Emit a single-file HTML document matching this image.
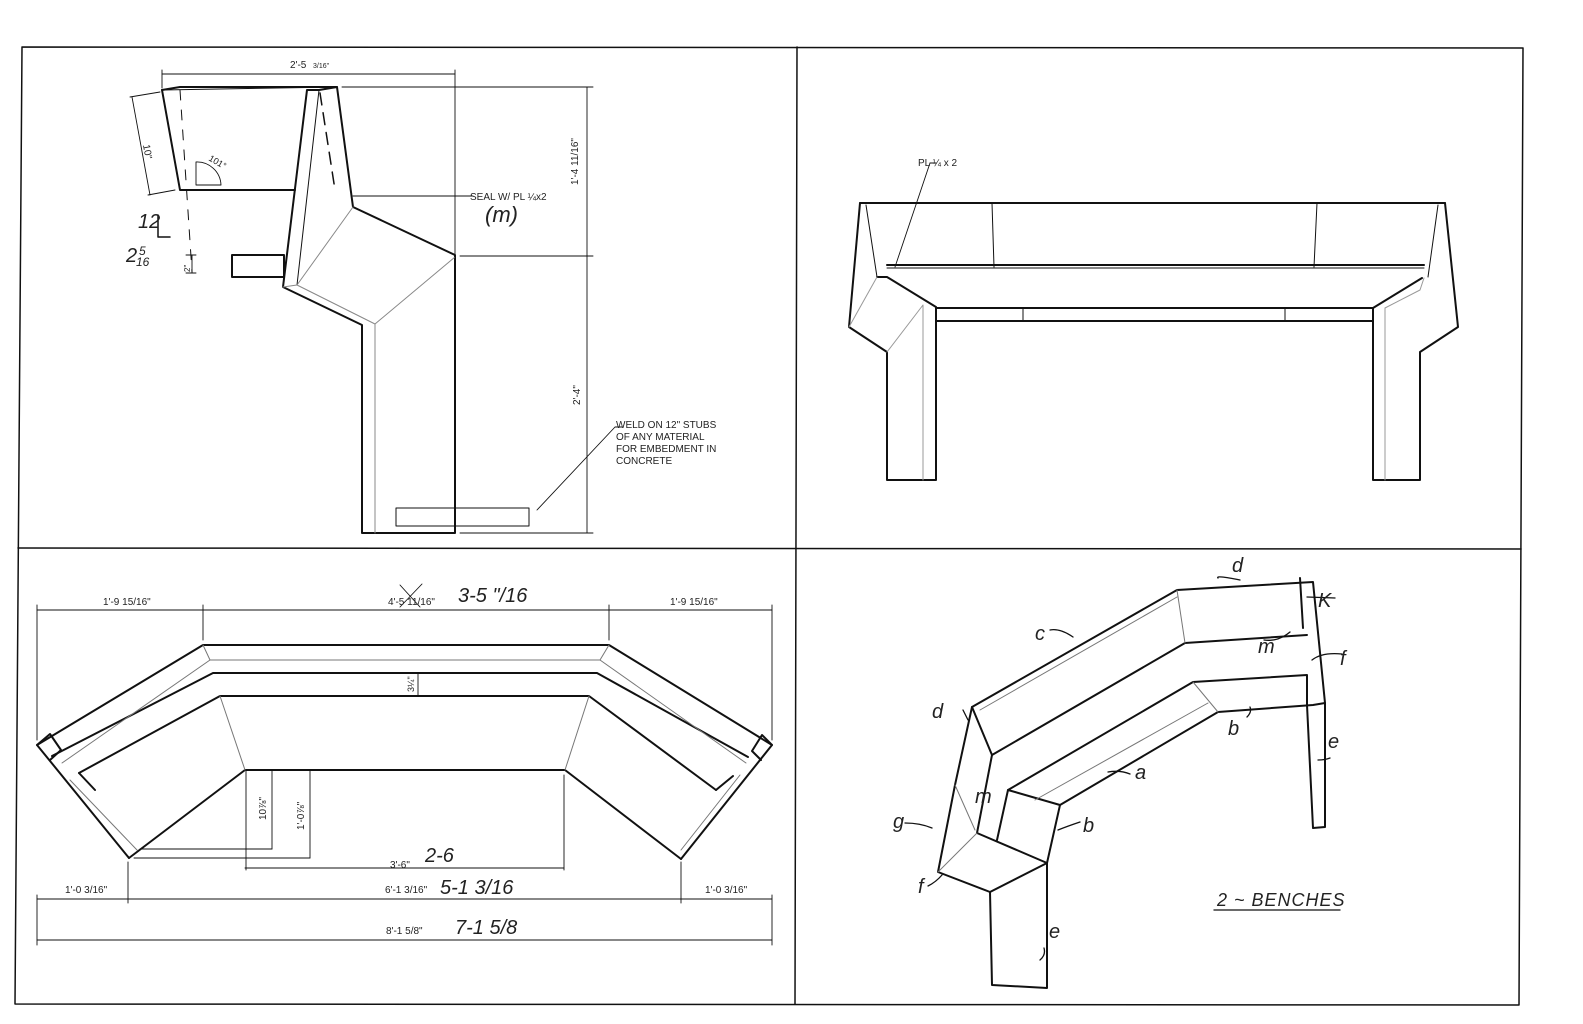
<!DOCTYPE html>
<html><head><meta charset="utf-8"><style>
html,body{margin:0;padding:0;background:#fff;}
svg{display:block;}
text{font-family:"Liberation Sans",sans-serif;fill:#222;}
.h{font-family:"Liberation Sans",sans-serif;font-style:italic;}
</style></head><body>
<svg width="1583" height="1024" viewBox="0 0 1583 1024" xmlns="http://www.w3.org/2000/svg">
<g fill="none" stroke="#111" stroke-linejoin="round" stroke-linecap="round">
<path d="M22 47 L1523 48 L1519 1005 L15 1004 Z" stroke-width="1.5"/>
<line x1="797" y1="47" x2="795" y2="1004" stroke-width="1.5"/>
<line x1="18" y1="548" x2="1521" y2="549" stroke-width="1.5"/>

<g stroke-width="2">
<path d="M162 90 L180 87 L337 87"/>
<path d="M162 90 L180 190 L295 190"/>
<path d="M307 90 L319 90 L337 87 L353 207 L455 255 L455 533 L362 533 L362 325 L283 287 L307 90"/>
<rect x="232" y="255" width="52" height="22"/>
</g>
<g stroke-width="1">
<line x1="319" y1="90" x2="297" y2="285"/>
<line x1="162" y1="90" x2="337" y2="87" />
</g>
<g stroke="#888" stroke-width="1">
<path d="M353 207 L297 285 L375 324 L455 257"/>
<line x1="297" y1="285" x2="283" y2="287"/>
<line x1="375" y1="324" x2="375" y2="533"/>
</g>
<line x1="180" y1="90" x2="192" y2="272" stroke-width="1" stroke-dasharray="10,10"/>
<line x1="320" y1="93" x2="335" y2="190" stroke-width="1.5" stroke-dasharray="12,8"/>
<rect x="396" y="508" width="133" height="18" stroke-width="1"/>
<g stroke-width="0.9">
<line x1="162" y1="74" x2="455" y2="74"/>
<line x1="162" y1="70" x2="162" y2="88"/>
<line x1="455" y1="70" x2="455" y2="533"/>
<line x1="342" y1="87" x2="593" y2="87"/>
<line x1="460" y1="256" x2="593" y2="256"/>
<line x1="460" y1="533" x2="593" y2="533"/>
<line x1="587" y1="87" x2="587" y2="533"/>
<line x1="132" y1="97" x2="150" y2="195"/>
<line x1="130" y1="97" x2="160" y2="92"/>
<line x1="148" y1="195" x2="175" y2="190"/>
<line x1="353" y1="196" x2="473" y2="196"/>
<path d="M622 427 L615 427 L537 510"/>
<line x1="930" y1="163" x2="895" y2="267"/>
<line x1="930" y1="163" x2="936" y2="163"/>
<path d="M196 185 L196 162 A24 24 0 0 1 221 185 Z"/>
<path d="M186 255 L196 255 M186 273 L196 273 M192 255 L192 273"/>
<path d="M158 215 L158 237 L170 237" stroke-width="1.5"/>
</g>

<g stroke-width="2">
<path d="M860 203 L1445 203"/>
<path d="M860 203 L849 327 L887 352 L887 480 L936 480 L936 308"/>
<path d="M1445 203 L1458 327 L1420 352 L1420 480 L1373 480 L1373 308"/>
<path d="M936 308 L1373 308"/>
<path d="M936 321 L1373 321"/>
<path d="M887 265 L1424 265"/>
<path d="M877 277 L887 277 L936 307"/>
<path d="M1422 278 L1373 308"/>
</g>
<g stroke-width="1">
<line x1="887" y1="268" x2="1424" y2="268"/>
<line x1="866" y1="205" x2="877" y2="277"/>
<line x1="1438" y1="205" x2="1428" y2="277"/>
<line x1="992" y1="203" x2="994" y2="267"/>
<line x1="1317" y1="203" x2="1314" y2="267"/>
<line x1="1023" y1="308" x2="1023" y2="321"/>
<line x1="1285" y1="308" x2="1285" y2="321"/>
</g>
<g stroke="#999" stroke-width="1">
<path d="M877 277 L849 327 M887 352 L923 305 L923 480 M1385 308 L1385 480 M1424 278 L1420 290 L1385 308"/>
</g>

<g stroke-width="2">
<path d="M37 745 L203 645 L609 645 L772 745"/>
<path d="M37 745 L50 734 L61 750 L50 760 M37 745 L129 858"/>
<path d="M772 745 L762 735 L752 751 L761 760 M772 745 L681 859"/>
<path d="M129 858 L245 770 L565 770 L681 859"/>
<path d="M52 756 L213 673 L597 673 L748 757"/>
<path d="M79 773 L220 696 L589 696 L716 790"/>
<path d="M79 773 L95 790 M716 790 L733 776"/>
</g>
<g stroke="#777" stroke-width="1">
<line x1="210" y1="660" x2="600" y2="660"/>
<line x1="203" y1="645" x2="210" y2="660"/>
<line x1="609" y1="645" x2="600" y2="660"/>
<line x1="62" y1="763" x2="210" y2="660"/>
<line x1="746" y1="763" x2="600" y2="660"/>
<line x1="220" y1="696" x2="245" y2="770"/>
<line x1="589" y1="696" x2="565" y2="770"/>
<line x1="70" y1="780" x2="137" y2="850"/>
<line x1="740" y1="775" x2="681" y2="850"/>
</g>
<g stroke-width="0.9">
<line x1="37" y1="610" x2="772" y2="610"/>
<line x1="37" y1="605" x2="37" y2="740"/>
<line x1="203" y1="605" x2="203" y2="640"/>
<line x1="609" y1="605" x2="609" y2="640"/>
<line x1="772" y1="605" x2="772" y2="740"/>
<line x1="418" y1="673" x2="418" y2="696"/>
<line x1="246" y1="770" x2="246" y2="870"/>
<line x1="564" y1="775" x2="564" y2="870"/>
<line x1="245" y1="868" x2="564" y2="868"/>
<line x1="140" y1="849" x2="272" y2="849"/>
<line x1="272" y1="770" x2="272" y2="849"/>
<line x1="134" y1="858" x2="310" y2="858"/>
<line x1="310" y1="770" x2="310" y2="858"/>
<line x1="128" y1="862" x2="128" y2="903"/>
<line x1="681" y1="862" x2="681" y2="903"/>
<line x1="37" y1="899" x2="772" y2="899"/>
<line x1="37" y1="895" x2="37" y2="945"/>
<line x1="772" y1="895" x2="772" y2="945"/>
<line x1="37" y1="940" x2="772" y2="940"/>
<line x1="400" y1="585" x2="420" y2="607"/>
<line x1="400" y1="607" x2="422" y2="584"/>
</g>

<g stroke-width="2">
<path d="M972 707 L1177 590 L1313 582 L1325 703 L1325 827 L1313 828 L1307 705"/>
<path d="M992 755 L1185 643 L1307 635"/>
<path d="M1008 790 L1193 682 L1307 675 L1307 705"/>
<path d="M1060 805 L1218 712 L1313 705 L1325 703"/>
<path d="M972 707 L955 785 L938 872 L990 892 L1047 863 L1060 805 L1008 790 L997 840"/>
<path d="M972 707 L992 755 L977 833 L1047 863"/>
<path d="M990 892 L992 985 L1047 988 L1047 863"/>
<line x1="1300" y1="578" x2="1303" y2="628"/>
</g>
<g stroke="#777" stroke-width="1">
<line x1="1177" y1="590" x2="1185" y2="643"/>
<line x1="1193" y1="682" x2="1218" y2="712"/>
<line x1="980" y1="710" x2="1177" y2="597"/>
<line x1="1035" y1="800" x2="1208" y2="703"/>
<line x1="938" y1="872" x2="977" y2="833"/>
<line x1="955" y1="785" x2="975" y2="830"/>
</g>
<g stroke-width="1.3">
<path d="M1214 910 L1340 910"/>
<path d="M1240 580 Q1215 575 1218 578 M1073 637 Q1060 628 1050 630 M1264 640 Q1278 642 1290 632 M1342 654 Q1322 652 1312 660 M1247 717 Q1252 712 1250 707 M1330 758 Q1325 760 1318 760 M1130 774 Q1120 770 1108 772 M1080 822 Q1068 826 1058 830 M905 823 Q920 823 932 828 M928 886 Q936 882 942 875 M1044 948 Q1046 955 1040 960 M963 710 L968 720 M1307 597 L1335 598"/>
</g>
</g>

<g font-size="10">
<text x="290" y="68">2'-5</text><text x="313" y="68" font-size="7">3/16"</text>
<text x="470" y="200">SEAL W/ PL ¼x2</text>
<text x="616" y="428">WELD ON 12" STUBS</text>
<text x="616" y="440">OF ANY MATERIAL</text>
<text x="616" y="452">FOR EMBEDMENT IN</text>
<text x="616" y="464">CONCRETE</text>
<text x="918" y="166">PL ¼ x 2</text>
<text transform="translate(143,145) rotate(80)">10"</text>
<text transform="translate(208,160) rotate(30)" font-size="9">101°</text>
<text transform="translate(578,185) rotate(-90)">1'-4 11/16"</text>
<text transform="translate(580,405) rotate(-90)">2'-4"</text>
<text transform="translate(190,272) rotate(-90)" font-size="8">2"</text>
<text x="103" y="605">1'-9 15/16"</text>
<text x="670" y="605">1'-9 15/16"</text>
<text x="388" y="605">4'-5 11/16"</text>
<text transform="translate(414,692) rotate(-90)" font-size="9">3¼"</text>
<text transform="translate(266,820) rotate(-90)">10⅞"</text>
<text transform="translate(304,830) rotate(-90)">1'-0⅞"</text>
<text x="390" y="868">3'-6"</text>
<text x="65" y="893">1'-0 3/16"</text>
<text x="705" y="893">1'-0 3/16"</text>
<text x="385" y="893">6'-1 3/16"</text>
<text x="386" y="934">8'-1 5/8"</text>
</g>
<g class="h" font-size="20" fill="#222">
<text x="485" y="222" font-size="22">(m)</text>
<text x="138" y="228">12</text>
<text x="126" y="262">2</text><text x="139" y="255" font-size="12">5</text><text x="136" y="266" font-size="12">16</text>
<text x="458" y="602">3-5 "/16</text>
<text x="425" y="862">2-6</text>
<text x="440" y="894">5-1 3/16</text>
<text x="455" y="934">7-1 5/8</text>
<text x="1232" y="572">d</text>
<text x="1318" y="607">K</text>
<text x="1035" y="640">c</text>
<text x="1258" y="653">m</text>
<text x="1340" y="665">f</text>
<text x="932" y="718">d</text>
<text x="1228" y="735">b</text>
<text x="1328" y="748">e</text>
<text x="1135" y="779">a</text>
<text x="975" y="803">m</text>
<text x="1083" y="832">b</text>
<text x="893" y="828">g</text>
<text x="918" y="893">f</text>
<text x="1049" y="938">e</text>
<text x="1217" y="906" font-size="18" letter-spacing="1">2 ~ BENCHES</text>
</g>
</svg>
</body></html>
